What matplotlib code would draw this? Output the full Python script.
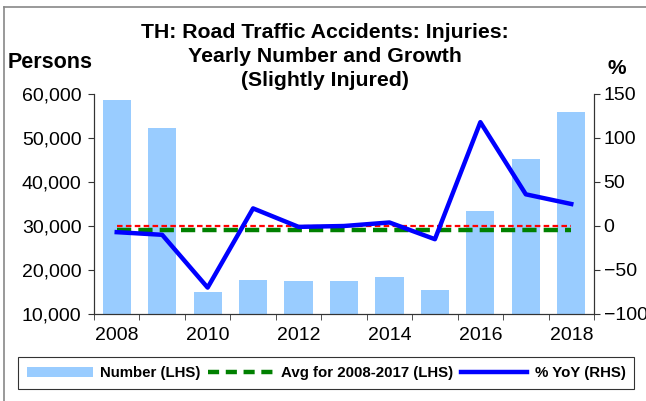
import matplotlib
matplotlib.use("Agg")
import matplotlib.pyplot as plt
from matplotlib.lines import Line2D
from matplotlib.patches import Patch

plt.rcParams["font.family"] = ["Liberation Sans", "DejaVu Sans"]

# Datos
years = ["2008", "2009", "2010", "2011", "2012", "2013", "2014", "2015", "2016", "2017", "2018"]
number = [58600, 52200, 14900, 17800, 17600, 17500, 18300, 15400, 33300, 45200, 55800]
yoy = [-7, -10, -70, 20, -1, 0, 4, -15, 118, 36, 25]
avg_years = 10  # 2008-2017

avg = sum(number[:avg_years]) / avg_years
x = list(range(len(years)))

fig = plt.figure(figsize=(6.46, 4.01), dpi=100)
ax = fig.add_axes([94 / 646, 1 - 314 / 401, (594 - 94) / 646, (314 - 94) / 401])
ax2 = ax.twinx()

ax.bar(x, number, width=0.62, color="#99ccff", zorder=1)
ax.plot([x[0], x[-1]], [avg, avg], color="#008000", lw=3.2,
        dashes=(3.2, 1.6), zorder=3)

ax2.plot([x[0], x[-1]], [0, 0], color="red", lw=1.6, dashes=(2.5, 1.5), zorder=2)
ax2.plot(x, yoy, color="#0000ff", lw=3.2, zorder=4)

ax.set_xlim(-0.5, len(years) - 0.5)
ax.set_ylim(10000, 60000)
ax2.set_ylim(-100, 150)
ax.set_yticks(range(10000, 60001, 10000))
ax.set_yticklabels([f"{v:,}" for v in range(10000, 60001, 10000)])
ax2.set_yticks(range(-100, 151, 50))

ax.set_xticks(x[::2])
ax.set_xticklabels(years[::2])
ax.set_xticks([i - 0.5 for i in range(len(years) + 1)], minor=True)
ax.tick_params(axis="x", which="major", length=0, pad=9, labelsize=14)
ax.tick_params(axis="x", which="minor", length=4, direction="out", color="#333333")
ax.tick_params(axis="y", length=4, direction="out", labelsize=14, color="#333333", pad=5)
ax2.tick_params(axis="y", length=4, direction="out", labelsize=14, color="#333333", pad=3)

for a in (ax, ax2):
    a.spines["top"].set_visible(False)
    for s in ("left", "right", "bottom"):
        a.spines[s].set_color("#333333")
ax.patch.set_alpha(0)
ax2.patch.set_alpha(0)
ax.set_zorder(1)
ax2.set_zorder(2)

fig.text(0.503, 1 - 23 / 401, "TH: Road Traffic Accidents: Injuries:\nYearly Number and Growth\n(Slightly Injured)",
         ha="center", va="top", fontsize=15.3, fontweight="bold", linespacing=1.32)
fig.text(8 / 646, 1 - 63 / 401, "Persons", ha="left", va="center", fontsize=15.5, fontweight="bold")
fig.text(617 / 646, 1 - 68 / 401, "%", ha="center", va="center", fontsize=15, fontweight="bold")

# Leyenda
handles = [
    Patch(facecolor="#99ccff", edgecolor="none"),
    Line2D([], [], color="#008000", lw=3.2, dashes=(2.5, 1.5)),
    Line2D([], [], color="#0000ff", lw=3.2),
]
labels = ["Number (LHS)", "Avg for 2008-2017 (LHS)", "% YoY (RHS)"]
leg = fig.legend(handles, labels, loc="center", bbox_to_anchor=(326 / 646, 1 - 373 / 401),
                 ncol=3, frameon=True, fancybox=False, handlelength=4.4, handletextpad=0.5,
                 columnspacing=0.5, prop={"weight": "bold", "size": 10.8}, borderpad=0.6)
leg.get_frame().set_edgecolor("black")
leg.get_frame().set_linewidth(0.8)

# Borde exterior
fig.add_artist(Line2D([4 / 646, 4 / 646], [0, 1 - 7 / 401], color="#888888", lw=1.2))
fig.add_artist(Line2D([4 / 646, 1], [1 - 7 / 401, 1 - 7 / 401], color="#888888", lw=1.2))

fig.savefig("out.png", dpi=100)
